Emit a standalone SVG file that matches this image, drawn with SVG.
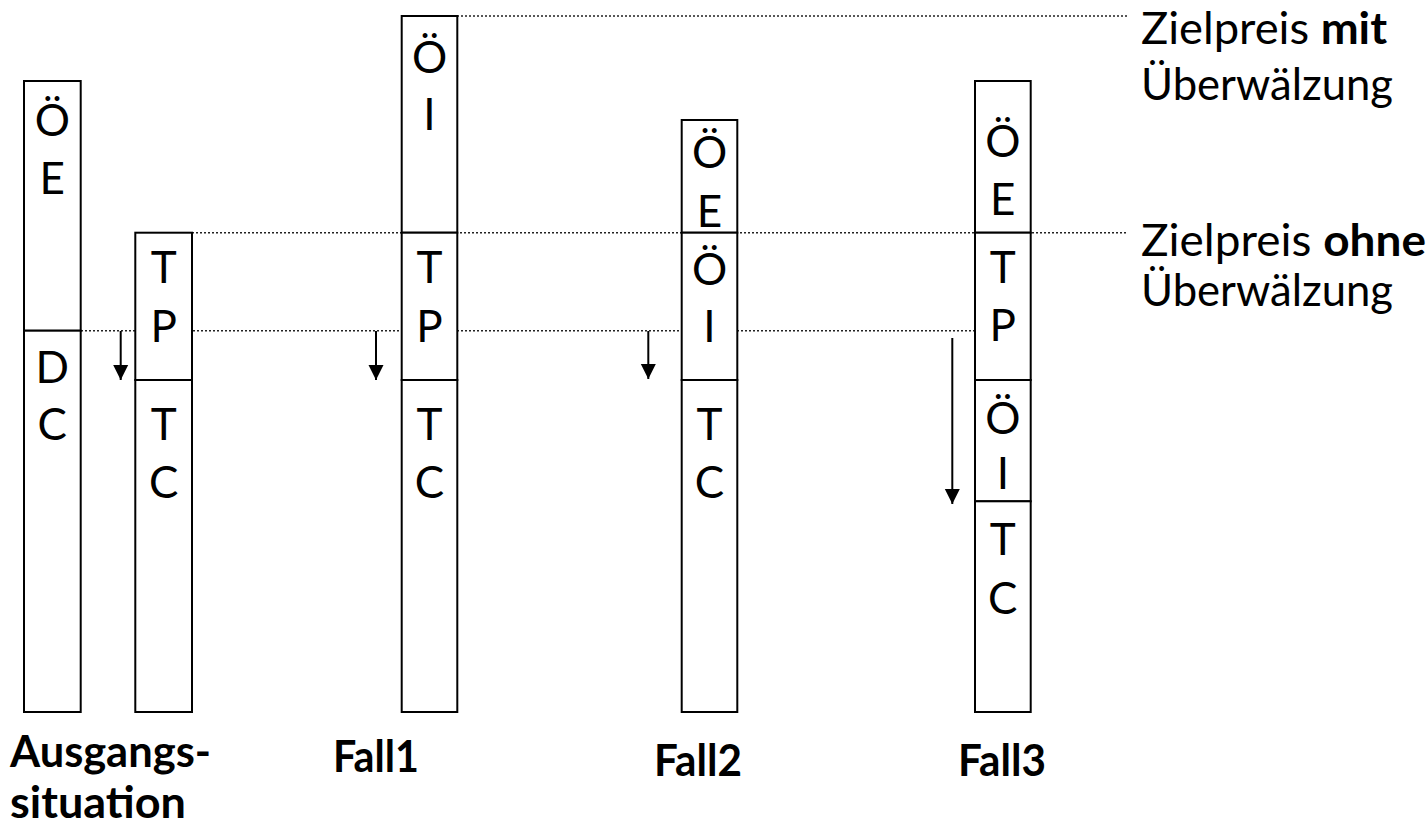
<svg xmlns="http://www.w3.org/2000/svg" width="1428" height="828" viewBox="0 0 1428 828">
  <defs>
    <style>
      .bg { fill: #ffffff; }
      .seg { fill: #ffffff; stroke: #000000; stroke-width: 2; }
      .guide { fill: none; stroke: #222222; stroke-width: 1.5; stroke-dasharray: 2 2; }
      .arrow { fill: none; stroke: #000000; stroke-width: 2; marker-end: url(#head); }
      .lt { font-family: Lato, "Liberation Sans", sans-serif; font-size: 44px; fill: #000000; text-anchor: middle; }
      .lbl { font-family: Lato, "Liberation Sans", sans-serif; font-size: 44px; fill: #000000; }
      .b { font-weight: bold; }
    </style>
    <marker id="head" markerUnits="userSpaceOnUse" markerWidth="16" markerHeight="16" viewBox="0 0 16 16" refX="15" refY="8" orient="auto">
      <path d="M0,0.5 L15,8 L0,15.5 Z" fill="#000000"/>
    </marker>
  </defs>

  <rect class="bg" x="0" y="0" width="1428" height="828"/>

  <!-- dotted guide lines (price levels) and shift arrows -->
  <g id="connectors">
    <line class="guide" x1="457" y1="16" x2="1127" y2="16"/>
    <line class="guide" x1="192" y1="232.7" x2="1127" y2="232.7"/>
    <line class="guide" x1="81" y1="330.7" x2="975" y2="330.7"/>
    <line class="arrow" x1="120.7" y1="331" x2="120.7" y2="380"/>
    <line class="arrow" x1="376" y1="331" x2="376" y2="380"/>
    <line class="arrow" x1="648.3" y1="331" x2="648.3" y2="379"/>
    <line class="arrow" x1="952.3" y1="338" x2="952.3" y2="504"/>
  </g>

  <!-- Ausgangssituation: ÖE / DC -->
  <g id="bar-start-left">
    <rect class="seg" x="24" y="81" width="56.7" height="249.7"/>
    <rect class="seg" x="24" y="330.7" width="56.7" height="381.3"/>
    <text class="lt" x="52.3" y="136">Ö</text>
    <text class="lt" x="52.3" y="194">E</text>
    <text class="lt" x="52.3" y="383">D</text>
    <text class="lt" x="52.3" y="440">C</text>
  </g>

  <!-- Ausgangssituation: TP / TC -->
  <g id="bar-start-right">
    <rect class="seg" x="135.3" y="232.7" width="56.7" height="147.3"/>
    <rect class="seg" x="135.3" y="380" width="56.7" height="332"/>
    <text class="lt" x="163.7" y="283">T</text>
    <text class="lt" x="163.7" y="342">P</text>
    <text class="lt" x="163.7" y="440">T</text>
    <text class="lt" x="163.7" y="498">C</text>
  </g>

  <!-- Fall1: ÖI / TP / TC -->
  <g id="bar-fall1">
    <rect class="seg" x="401.7" y="16" width="55.6" height="216.7"/>
    <rect class="seg" x="401.7" y="232.7" width="55.6" height="147.3"/>
    <rect class="seg" x="401.7" y="380" width="55.6" height="332"/>
    <text class="lt" x="429.5" y="73">Ö</text>
    <text class="lt" x="429.5" y="130">I</text>
    <text class="lt" x="429.5" y="283">T</text>
    <text class="lt" x="429.5" y="342">P</text>
    <text class="lt" x="429.5" y="440">T</text>
    <text class="lt" x="429.5" y="498">C</text>
  </g>

  <!-- Fall2: ÖE / ÖI / TC -->
  <g id="bar-fall2">
    <rect class="seg" x="681.7" y="120" width="55.6" height="112.7"/>
    <rect class="seg" x="681.7" y="232.7" width="55.6" height="147.3"/>
    <rect class="seg" x="681.7" y="380" width="55.6" height="332"/>
    <text class="lt" x="709.5" y="168">Ö</text>
    <text class="lt" x="709.5" y="227">E</text>
    <text class="lt" x="709.5" y="285">Ö</text>
    <text class="lt" x="709.5" y="342">I</text>
    <text class="lt" x="709.5" y="440">T</text>
    <text class="lt" x="709.5" y="498">C</text>
  </g>

  <!-- Fall3: ÖE / TP / ÖI / TC -->
  <g id="bar-fall3">
    <rect class="seg" x="975" y="81" width="55.7" height="151.7"/>
    <rect class="seg" x="975" y="232.7" width="55.7" height="147.3"/>
    <rect class="seg" x="975" y="380" width="55.7" height="121.3"/>
    <rect class="seg" x="975" y="501.3" width="55.7" height="210.7"/>
    <text class="lt" x="1002.8" y="157">Ö</text>
    <text class="lt" x="1002.8" y="215">E</text>
    <text class="lt" x="1002.8" y="283">T</text>
    <text class="lt" x="1002.8" y="341">P</text>
    <text class="lt" x="1002.8" y="434">Ö</text>
    <text class="lt" x="1002.8" y="489">I</text>
    <text class="lt" x="1002.8" y="555">T</text>
    <text class="lt" x="1002.8" y="614">C</text>
  </g>

  <!-- price level labels -->
  <g id="label-with">
    <text class="lbl" x="1141" y="44" textLength="246" lengthAdjust="spacingAndGlyphs">Zielpreis <tspan class="b">mit</tspan></text>
    <text class="lbl" x="1141" y="100" textLength="252" lengthAdjust="spacingAndGlyphs">Überwälzung</text>
  </g>
  <g id="label-without">
    <text class="lbl" x="1141" y="256" textLength="285" lengthAdjust="spacingAndGlyphs">Zielpreis <tspan class="b">ohne</tspan></text>
    <text class="lbl" x="1141" y="306" textLength="252" lengthAdjust="spacingAndGlyphs">Überwälzung</text>
  </g>

  <!-- case captions -->
  <g id="caption-start">
    <text class="lbl b" x="10" y="767" textLength="201" lengthAdjust="spacingAndGlyphs">Ausgangs-</text>
    <text class="lbl b" x="10" y="818" textLength="176" lengthAdjust="spacingAndGlyphs">situation</text>
  </g>
  <g id="caption-fall1">
    <text class="lbl b" x="333" y="772" textLength="86" lengthAdjust="spacingAndGlyphs">Fall1</text>
  </g>
  <g id="caption-fall2">
    <text class="lbl b" x="654" y="776" textLength="88" lengthAdjust="spacingAndGlyphs">Fall2</text>
  </g>
  <g id="caption-fall3">
    <text class="lbl b" x="958" y="776" textLength="88" lengthAdjust="spacingAndGlyphs">Fall3</text>
  </g>
</svg>
